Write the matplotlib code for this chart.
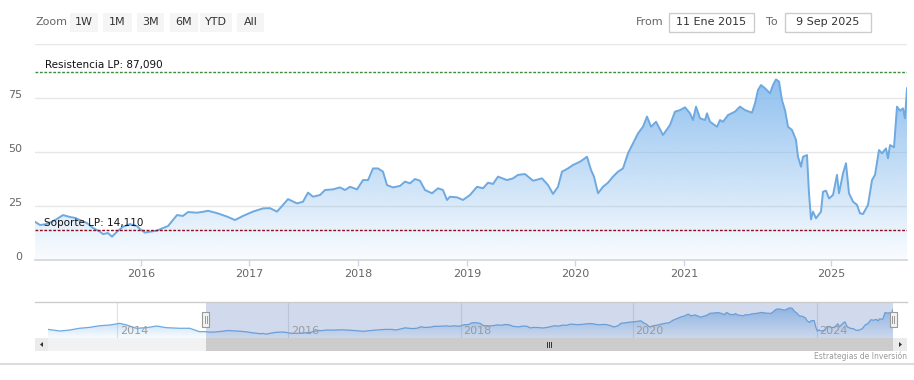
import numpy as np
import matplotlib
matplotlib.use("Agg")
import matplotlib.pyplot as plt
import matplotlib.colors as mcolors
from matplotlib.patches import Rectangle, Polygon
from matplotlib.transforms import ScaledTranslation

plt.rcParams['font.family'] = ['DejaVu Sans']

# ordinal position of each point (Highcharts ordinal axis) and price
pos = [0, 5, 10, 15, 22, 28, 35, 40, 45, 52, 58, 65, 68, 73, 77, 82, 88, 95, 102, 105,
       110, 115, 122, 128, 133, 138, 142, 148, 153, 162, 168, 173, 182, 192, 200, 208,
       218, 228, 235, 242, 248, 253, 262, 268, 273, 278, 285, 290, 298, 305, 310, 315,
       322, 328, 333, 338, 343, 348, 352, 358, 365, 370, 375, 380, 385, 390, 397, 403,
       408, 412, 415, 422, 428, 435, 442, 448, 453, 458, 463, 472, 478, 483, 490, 498,
       507, 513, 518, 523, 527, 533, 538, 545, 552, 556, 559, 563, 568, 573, 578, 583,
       588, 593, 598, 603, 608, 612, 616, 621, 628, 635, 640, 645, 650, 655, 658, 661,
       665, 670, 672, 675, 682, 685, 688, 693, 700, 705, 710, 717, 720, 723, 726, 730,
       735, 738, 741, 744, 747, 750, 753, 757, 761, 763, 766, 768, 772, 774, 776, 778,
       781, 786, 788, 791, 794, 798, 802, 804, 808, 811, 814, 818, 822, 825, 828, 833,
       837, 840, 844, 847, 851, 853, 855, 859, 862, 865, 868, 870, 872]
price = [17.7, 16.2, 16.5, 17.3, 19.0, 20.8, 19.9, 19.5, 18.5, 17.1, 14.8, 13.1, 12.0, 12.5,
         10.8, 13.1, 15.4, 16.6, 15.7, 14.3, 12.7, 13.1, 13.6, 14.8, 15.7, 18.5, 20.8, 20.4,
         22.2, 21.9, 22.3, 22.8, 21.7, 20.1, 18.5, 20.4, 22.4, 23.9, 24.0, 22.4, 25.5, 28.2,
         26.2, 27.0, 31.2, 29.3, 30.1, 32.4, 32.7, 33.6, 32.4, 33.9, 32.7, 37.0, 37.0, 42.4,
         42.4, 40.9, 34.7, 33.6, 34.3, 36.3, 35.5, 37.5, 36.7, 32.4, 30.9, 33.2, 32.4, 27.8,
         29.3, 29.0, 27.8, 30.1, 33.9, 33.2, 35.8, 35.2, 38.6, 37.0, 37.8, 39.4, 39.8, 36.7,
         37.8, 34.7, 30.6, 33.9, 40.9, 42.4, 44.0, 45.5, 47.8, 41.7, 38.6, 30.9, 33.9, 35.8,
         38.6, 40.9, 42.4, 49.4, 54.0, 58.6, 61.7, 66.4, 61.7, 64.0, 57.9, 62.5, 68.7, 69.4,
         70.7, 67.9, 64.8, 71.0, 65.6, 64.8, 67.9, 64.0, 61.7, 64.8, 64.0, 67.1, 68.7, 71.0,
         69.4, 68.2, 72.5, 78.7, 81.0, 79.5, 77.2, 81.0, 83.6, 82.6, 74.0, 69.4, 61.7, 60.2,
         55.6, 47.8, 43.2, 47.8, 48.6, 30.9, 18.8, 22.4, 19.3, 22.4, 31.6, 32.1, 28.5, 30.1,
         39.4, 30.9, 40.1, 44.8, 30.9, 27.0, 25.5, 21.6, 21.3, 25.5, 37.0, 39.4, 50.9, 49.4,
         51.7, 47.1, 53.2, 52.2, 71.0, 69.1, 70.2, 65.6, 79.5]

# older history only visible in the navigator
pos_hist = [-200, -185, -173, -160, -147, -135, -122, -109, -100, -88, -75, -62, -50, -33, -20, -8]
price_hist = [24.0, 19.4, 22.0, 27.0, 29.6, 34.0, 36.0, 40.7, 36.0, 27.0, 28.7, 33.3, 28.7,
              27.0, 27.0, 17.6]

year_pos = [106, 214, 323, 432, 540, 649, 796]
year_labels = ['2016', '2017', '2018', '2019', '2020', '2021', '2025']
nav_year_pos = [-112, 105, 324, 542, 775]
nav_year_labels = ['2014', '2016', '2018', '2020', '2024']

resistencia = 87.09
soporte = 14.11

W, H = 914, 380
fig = plt.figure(figsize=(W / 100, H / 100), dpi=100)
blue = '#7cb5ec'
line_c = '#6ea9e0'


def gradient_fill(ax, x, y, x0, x1, top, a_top, a_bot, z):
    poly = ax.fill_between(x, y, 0, color='none', lw=0)
    path = poly.get_paths()[0]
    img = np.zeros((256, 1, 4))
    img[:, 0, :3] = mcolors.to_rgb(blue)
    img[:, 0, 3] = np.linspace(a_top, a_bot, 256)
    im = ax.imshow(img, aspect='auto', extent=[x0, x1, 0, top], origin='upper',
                   zorder=z, interpolation='bilinear')
    im.set_clip_path(path, ax.transData)


# main chart
ax = fig.add_axes([35 / W, (H - 260) / H, 872 / W, 216 / H])
gradient_fill(ax, pos, price, 0, 872, 100, 1.0, 0.04, 1)
ax.plot(pos, price, color=line_c, lw=1.4, zorder=3)
ax.set_xlim(0, 872)
ax.set_ylim(0, 100)
ax.set_yticks([0, 25, 50, 75, 100])
ax.set_yticklabels(['0', '25', '50', '75', ''])
ax.grid(axis='y', color='#e6e6e6', lw=1)
ax.set_axisbelow(True)
ax.set_xticks(year_pos)
ax.set_xticklabels(year_labels)
ax.tick_params(axis='y', length=0, pad=9, labelsize=8, labelcolor='#666666')
ax.tick_params(axis='x', length=4, width=1, color='#ccd6eb', pad=2.5, labelsize=8,
               labelcolor='#666666')
for lab in ax.get_yticklabels():
    lab.set_transform(lab.get_transform() + ScaledTranslation(0, 0.04, fig.dpi_scale_trans))
for s in ['top', 'left', 'right']:
    ax.spines[s].set_visible(False)
ax.spines['bottom'].set_color('#d8d8d8')
ax.spines['bottom'].set_linewidth(1.3)

ax.axhline(resistencia, color='#3e8a3e', lw=1, dashes=(2, 1.2), zorder=4)
ax.axhline(soporte, color='#8b0a1e', lw=1, dashes=(2, 1.2), zorder=4)
ax.text(10, resistencia + 0.8, 'Resistencia LP: 87,090', fontsize=7.5, color='#111111',
        va='bottom', ha='left', zorder=5)
ax.text(9, soporte + 0.8, 'Soporte LP: 14,110', fontsize=7.5, color='#111111',
        va='bottom', ha='left', zorder=5)

# navigator
nav = fig.add_axes([48 / W, (H - 338) / H, 845 / W, 36 / H])
all_pos = pos_hist + pos
all_price = price_hist + price
gradient_fill(nav, all_pos, all_price, -200, 872, 100, 0.85, 0.05, 1)
nav.plot(all_pos, all_price, color=line_c, lw=0.9, zorder=3)
nav.set_xlim(-200, 872)
nav.set_ylim(0, 100)
nav.axvspan(0, 872, color='#6685c2', alpha=0.3, lw=0, zorder=4)
for p, lab in zip(nav_year_pos, nav_year_labels):
    nav.axvline(p, color='#e0e0e0', lw=0.8, zorder=0)
    nav.text(p + 3, 20, lab, fontsize=8, color='#9a9a9a', ha='left', va='center', zorder=5)
nav.set_xticks([])
nav.set_yticks([])
for s in nav.spines.values():
    s.set_visible(False)

# overlay in pixel units for the UI parts
ov = fig.add_axes([0, 0, 1, 1], facecolor='none')
ov.set_xlim(0, W)
ov.set_ylim(H, 0)
ov.axis('off')

ov.text(35, 22, 'Zoom', fontsize=8, color='#666666', va='center', ha='left')
buttons = [('1W', 70, 98), ('1M', 103, 132), ('3M', 137, 164), ('6M', 170, 198),
           ('YTD', 200, 232), ('All', 237, 264)]
for lab, x0, x1 in buttons:
    ov.add_patch(Rectangle((x0, 13), x1 - x0, 19, fc='#f5f5f5', ec='none'))
    ov.text((x0 + x1) / 2, 22, lab, fontsize=8, color='#333333', va='center', ha='center')

ov.text(636, 22, 'From', fontsize=8, color='#666666', va='center', ha='left')
ov.add_patch(Rectangle((669, 13), 85, 19, fc='white', ec='#cccccc', lw=1))
ov.text(711.5, 22, '11 Ene 2015', fontsize=8, color='#333333', va='center', ha='center')
ov.text(766, 22, 'To', fontsize=8, color='#666666', va='center', ha='left')
ov.add_patch(Rectangle((785, 13), 86, 19, fc='white', ec='#cccccc', lw=1))
ov.text(828, 22, '9 Sep 2025', fontsize=8, color='#333333', va='center', ha='center')

# navigator outline and handles
ov.plot([35, 907], [302, 302], color='#cccccc', lw=1)
h0 = nav.transData.transform((0, 0))[0]
h1 = nav.transData.transform((872, 0))[0]
for hx in [h0, h1]:
    ov.add_patch(Rectangle((hx - 3.5, 312), 7, 15, fc='#f2f2f2', ec='#999999', lw=0.8, zorder=6))
    ov.plot([hx - 1, hx - 1], [316, 323], color='#999999', lw=0.7, zorder=7)
    ov.plot([hx + 1, hx + 1], [316, 323], color='#999999', lw=0.7, zorder=7)

# scrollbar
ov.add_patch(Rectangle((35, 338), 872, 13, fc='#f2f2f2', ec='none'))
ov.add_patch(Rectangle((h0, 338), h1 - h0, 13, fc='#cccccc', ec='none'))
ov.add_patch(Rectangle((35, 338), 13, 13, fc='#ebebeb', ec='none'))
ov.add_patch(Rectangle((h1, 338), 907 - h1, 13, fc='#ebebeb', ec='none'))
ov.add_patch(Polygon([[43, 342], [43, 347], [40, 344.5]], closed=True, fc='#333333', ec='none'))
ov.add_patch(Polygon([[899, 342], [899, 347], [902, 344.5]], closed=True, fc='#333333', ec='none'))
mid = (h0 + h1) / 2
for dx in [-2, 0, 2]:
    ov.plot([mid + dx, mid + dx], [342, 347], color='#333333', lw=0.7)

ov.text(907, 356, 'Estrategias de Inversión', fontsize=5.5, color='#999999',
        ha='right', va='center')
ov.plot([0, W], [364, 364], color='#dddddd', lw=1.5)

fig.savefig('out.png', dpi=100)
